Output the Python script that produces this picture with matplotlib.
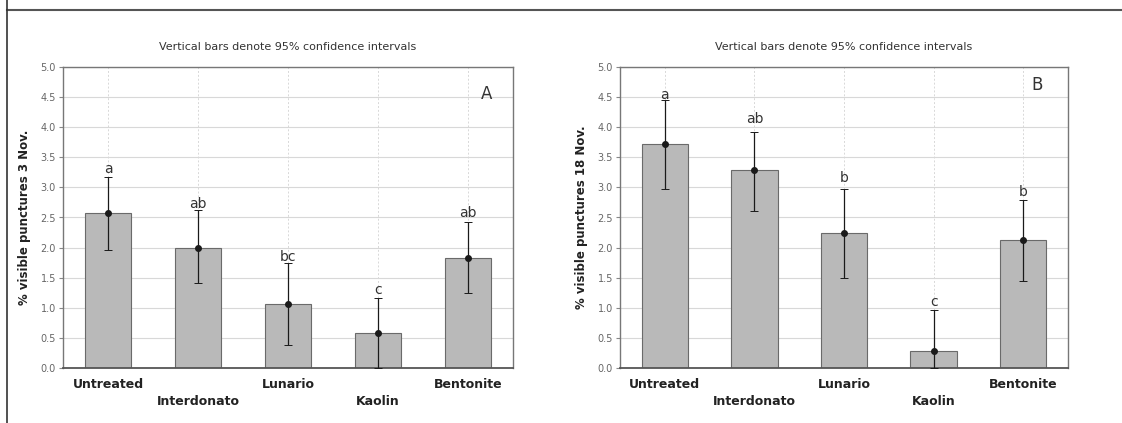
import matplotlib
matplotlib.use("Agg")
import matplotlib.pyplot as plt
from matplotlib.lines import Line2D

categories = ["Untreated", "Interdonato", "Lunario", "Kaolin", "Bentonite"]

# panel A: 3 Nov.
means_a = [2.58, 1.99, 1.06, 0.58, 1.82]
lower_a = [1.96, 1.41, 0.39, 0.0, 1.24]
upper_a = [3.18, 2.62, 1.74, 1.16, 2.43]
letters_a = ["a", "ab", "bc", "c", "ab"]
letter_y_a = [3.31, 2.72, 1.85, 1.30, 2.57]

# panel B: 18 Nov.
means_b = [3.72, 3.29, 2.25, 0.28, 2.13]
lower_b = [2.98, 2.60, 1.49, 0.0, 1.44]
upper_b = [4.45, 3.92, 2.98, 0.97, 2.79]
letters_b = ["a", "ab", "b", "c", "b"]
letter_y_b = [4.53, 4.13, 3.15, 1.10, 2.93]

yticks = [0.0, 0.5, 1.0, 1.5, 2.0, 2.5, 3.0, 3.5, 4.0, 4.5, 5.0]

fig = plt.figure(figsize=(11.22, 4.23), dpi=100)
W, H = 1122, 423


def panel(rect, means, lo, hi, letters, letter_y, ylabel, tag, tag_xy):
    ax = fig.add_axes(rect)
    x = list(range(len(categories)))
    ax.set_axisbelow(True)
    ax.yaxis.grid(True, color="#d8d8d8", lw=0.8)
    for xi in x:
        ax.axvline(xi, color="#d8d8d8", lw=0.7, ls=(0, (2, 2)), zorder=0)
    ax.bar(x, means, width=0.52, color="#b9b9b9", edgecolor="#6a6a6a", lw=0.8, zorder=2)
    yerr = [[m - l for m, l in zip(means, lo)], [h - m for m, h in zip(means, hi)]]
    ax.errorbar(x, means, yerr=yerr, fmt="o", color="#1a1a1a", ms=4, lw=0.9,
                capsize=3, capthick=0.7, zorder=3)
    for xi, lt, ly in zip(x, letters, letter_y):
        ax.text(xi, ly, lt, ha="center", va="center", fontsize=10, color="#333333")
    ax.text(tag_xy[0], tag_xy[1], tag, ha="center", va="center", fontsize=12, color="#333333")
    ax.set_xlim(-0.5, 4.5)
    ax.set_ylim(0, 5.0)
    ax.set_yticks(yticks)
    ax.set_yticklabels([f"{t:.1f}" for t in yticks], fontsize=7, color="#666666")
    ax.set_xticks(x)
    ax.set_xticklabels([])
    for xi, c in zip(x, categories):
        dy = -0.27 if xi % 2 == 0 else -0.56
        ax.text(xi, dy, c, ha="center", va="center", fontsize=9, fontweight="bold",
                color="#222222")
    ax.tick_params(axis="x", length=0)
    ax.tick_params(axis="y", length=3, color="#888888", pad=2)
    for s in ax.spines.values():
        s.set_color("#777777")
        s.set_linewidth(1.0)
    ax.spines["bottom"].set_color("#555555")
    ax.spines["bottom"].set_linewidth(1.3)
    ax.set_ylabel(ylabel, fontsize=8.5, fontweight="bold", color="#222222", labelpad=7)
    ax.set_title("Vertical bars denote 95% confidence intervals", fontsize=8,
                 color="#333333", pad=12)
    return ax


def rect(l, r, t, b):
    return [l / W, 1 - b / H, (r - l) / W, (b - t) / H]


panel(rect(63, 513, 67, 368), means_a, lower_a, upper_a, letters_a, letter_y_a,
      "% visible punctures 3 Nov.", "A", (4.21, 4.55))
panel(rect(620, 1068, 67, 368), means_b, lower_b, upper_b, letters_b, letter_y_b,
      "% visible punctures 18 Nov.", "B", (4.15, 4.7))

# surrounding table-cell borders
fig.add_artist(Line2D([7 / W, 1], [1 - 10 / H, 1 - 10 / H], color="#555555", lw=1.5))
fig.add_artist(Line2D([7 / W, 7 / W], [0, 1], color="#333333", lw=1.2))

fig.savefig("out.png", dpi=100)
